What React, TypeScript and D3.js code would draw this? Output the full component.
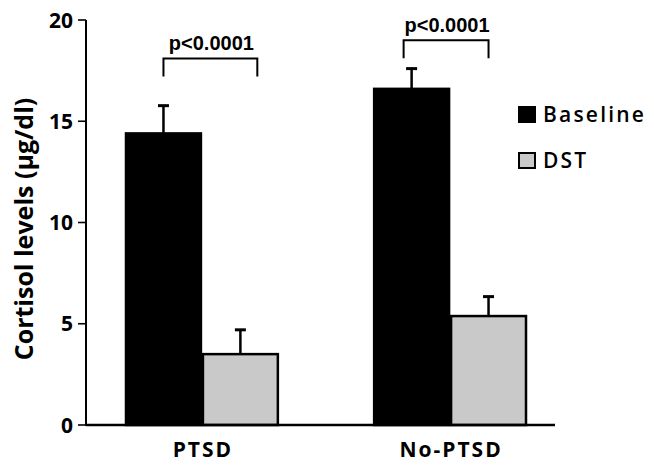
import React from "react";
import * as d3 from "d3";

const categories = ["PTSD", "No-PTSD"];
const seriesNames = ["Baseline", "DST"];
const baselineValues = [14.4, 16.6];
const baselineErrors = [1.37, 1.0];
const dstValues = [3.5, 5.38];
const dstErrors = [1.2, 0.96];
const yTicks = [0, 5, 10, 15, 20];
const pLabels = ["p<0.0001", "p<0.0001"];
const bracketLevels = [18.1, 19.0];

const W = 654;
const H = 467;
const axisX = 86;
const axisRight = 555;
const FONT = "'Open Sans', 'DejaVu Sans', sans-serif";

export default function App() {
  const y = d3.scaleLinear().domain([0, 20]).range([425, 20]);
  const x = d3.scaleBand<string>().domain(categories).range([125, 527]).paddingInner(0.38).paddingOuter(0);
  const xs = d3.scaleBand<string>().domain(seriesNames).range([0, x.bandwidth()]).padding(0);
  const fills: Record<string, string> = { Baseline: "#000000", DST: "#c9c9c9" };

  const data = categories.map((c, i) => ({
    cat: c,
    items: [
      { s: "Baseline", v: baselineValues[i], e: baselineErrors[i] },
      { s: "DST", v: dstValues[i], e: dstErrors[i] },
    ],
  }));

  return (
    <svg width={W} height={H} style={{ position: "absolute", left: 0, top: 0, display: "block", background: "#fff" }}>
      {/* y axis */}
      <line x1={axisX} x2={axisX} y1={y(20)} y2={y(0) + 1} stroke="#000" strokeWidth={2} />
      {yTicks.map((t) => (
        <g key={t}>
          <line x1={axisX - 8} x2={axisX} y1={y(t)} y2={y(t)} stroke="#000" strokeWidth={1.6} />
          <text x={axisX - 13} y={y(t)} dy="0.36em" textAnchor="end" fontFamily={FONT} fontWeight={700} fontSize={21} fill="#000">
            {t}
          </text>
        </g>
      ))}
      <text
        transform={`translate(33, 229) rotate(-90)`}
        textAnchor="middle"
        fontFamily={FONT}
        fontWeight={700}
        fontSize={25}
        fill="#000"
      >
        Cortisol levels  (µg/dl)
      </text>

      {/* bars */}
      {data.map((g) => (
        <g key={g.cat} transform={`translate(${x(g.cat)},0)`}>
          {g.items.map((it) => {
            const bx = xs(it.s)!;
            const bw = xs.bandwidth();
            const cx = bx + bw / 2;
            return (
              <g key={it.s}>
                <line x1={cx} x2={cx} y1={y(it.v)} y2={y(it.v + it.e)} stroke="#000" strokeWidth={2.5} />
                <line x1={cx - 5.5} x2={cx + 5.5} y1={y(it.v + it.e)} y2={y(it.v + it.e)} stroke="#000" strokeWidth={3} />
                <rect
                  x={bx + 1}
                  y={y(it.v)}
                  width={bw - 2}
                  height={y(0) - y(it.v)}
                  fill={fills[it.s]}
                  stroke="#000"
                  strokeWidth={2.5}
                />
              </g>
            );
          })}
          <text
            x={x.bandwidth() / 2 + 1}
            y={457}
            textAnchor="middle"
            fontFamily={FONT}
            fontWeight={700}
            fontSize={21}
            letterSpacing={2}
            fill="#000"
          >
            {g.cat}
          </text>
        </g>
      ))}

      {/* x axis line */}
      <line x1={axisX} x2={axisRight} y1={y(0)} y2={y(0)} stroke="#000" strokeWidth={2.5} />

      {/* brackets */}
      {categories.map((c, i) => {
        const left = x(c)! + xs.bandwidth() / 2 + (i === 0 ? 0 : -8);
        const right = x(c)! + xs.bandwidth() * (i === 0 ? 1.72 : 1.5);
        const top = y(bracketLevels[i]);
        const bot = top + 18;
        return (
          <g key={c}>
            <path d={`M${left},${bot}V${top}H${right}V${bot}`} fill="none" stroke="#000" strokeWidth={2} />
            <text
              x={(left + right) / 2 + 1}
              y={top - 8}
              textAnchor="middle"
              fontFamily="'Liberation Sans', Arial, sans-serif"
              fontWeight={700}
              fontSize={20}
              fill="#000"
            >
              {pLabels[i]}
            </text>
          </g>
        );
      })}

      {/* legend */}
      {seriesNames.map((s, i) => (
        <g key={s} transform={`translate(519, ${107 + i * 46})`}>
          <rect x={0} y={0} width={16} height={15} fill={fills[s]} stroke="#000" strokeWidth={2} />
          <text x={24} y={15} fontFamily={FONT} fontWeight={600} fontSize={21} letterSpacing={2.2} fill="#000">
            {s}
          </text>
        </g>
      ))}
    </svg>
  );
}
